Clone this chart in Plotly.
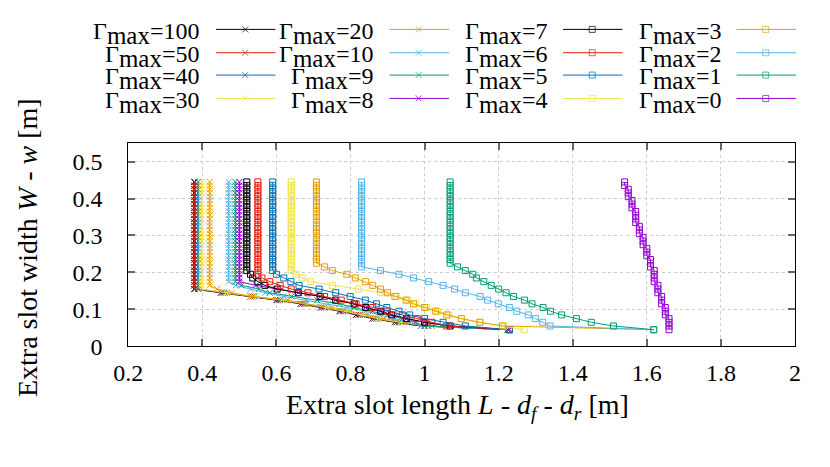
import plotly.graph_objects as go

# ------------------------------------------------------------
# Data
# ------------------------------------------------------------

# W - w levels shared by every curve (top of the wall down to the end)
LEVELS = [0.445, 0.435, 0.425, 0.415, 0.405, 0.395, 0.385, 0.375, 0.365, 0.355,
          0.345, 0.335, 0.325, 0.315, 0.305, 0.295, 0.285, 0.275, 0.265, 0.255,
          0.245, 0.235, 0.225, 0.215, 0.205, 0.195, 0.185, 0.175, 0.165, 0.155,
          0.145, 0.135, 0.125, 0.115, 0.105, 0.095, 0.085, 0.075, 0.065, 0.055,
          0.045]

GAMMA = [100, 50, 40, 30, 20, 10, 9, 8, 7, 6, 5, 4, 3, 2, 1, 0]

# vertical part: constant L - df - dr from the top level down to the knee
WALL_X = [0.378, 0.380, 0.389, 0.398, 0.420, 0.471, 0.489, 0.500,
          0.520, 0.550, 0.590, 0.640, 0.708, 0.830, 1.069, None]
KNEE_Y = [0.155, 0.155, 0.155, 0.155, 0.165, 0.175, 0.175, 0.175,
          0.205, 0.195, 0.205, 0.205, 0.225, 0.215, 0.225, None]

# sloped part: x at each level below the knee
SLOPE_100 = [0.45, 0.53, 0.60, 0.665, 0.72, 0.77, 0.815, 0.86, 0.92, 0.99, 1.225]
SLOPE_50 = [0.455, 0.535, 0.605, 0.67, 0.725, 0.775, 0.82, 0.865, 0.925, 1.0, 1.225]
SLOPE_40 = [0.46, 0.54, 0.61, 0.675, 0.73, 0.78, 0.825, 0.87, 0.93, 1.01, 1.225]
SLOPE_30 = [0.465, 0.545, 0.615, 0.68, 0.735, 0.785, 0.83, 0.875, 0.935, 1.02, 1.225]
SLOPE_20 = [0.44, 0.48, 0.53, 0.63, 0.68, 0.75, 0.80, 0.845, 0.89, 0.95, 1.02, 1.225]
SLOPE_10 = [0.49, 0.53, 0.57, 0.62, 0.68, 0.74, 0.79, 0.84, 0.88, 0.92, 0.96, 0.99, 1.225]
SLOPE_9 = [0.505, 0.552, 0.582, 0.641, 0.71, 0.77, 0.81, 0.86, 0.90, 0.94, 0.975, 1.0, 1.225]
SLOPE_8 = [0.545, 0.60, 0.659, 0.718, 0.76, 0.81, 0.841, 0.881, 0.911, 0.951, 1.0, 1.069, 1.229]
SLOPE_7 = [0.53, 0.536, 0.55, 0.569, 0.602, 0.659, 0.718, 0.76, 0.81, 0.841, 0.881,
           0.911, 0.951, 1.0, 1.069, 1.229]
SLOPE_6 = [0.561, 0.582, 0.61, 0.64, 0.685, 0.73, 0.775, 0.815, 0.86, 0.90, 0.94,
           0.98, 1.02, 1.06, 1.229]
SLOPE_5 = [0.60, 0.62, 0.639, 0.661, 0.715, 0.76, 0.799, 0.84, 0.87, 0.898, 0.931,
           0.96, 1.0, 1.05, 1.11, 1.229]
SLOPE_4 = [0.653, 0.670, 0.692, 0.751, 0.821, 0.881, 0.925, 0.955, 0.975, 1.005,
           1.035, 1.065, 1.10, 1.15, 1.215, 1.269]
SLOPE_3 = [0.730, 0.751, 0.79, 0.813, 0.841, 0.86, 0.881, 0.90, 0.92, 0.95, 0.97,
           1.0, 1.03, 1.06, 1.099, 1.149, 1.21, 1.618]
SLOPE_2 = [0.881, 0.931, 0.970, 1.011, 1.05, 1.081, 1.11, 1.15, 1.17, 1.199, 1.229,
           1.249, 1.28, 1.299, 1.319, 1.339, 1.618]
SLOPE_1 = [1.089, 1.11, 1.13, 1.14, 1.16, 1.18, 1.20, 1.22, 1.24, 1.27, 1.29, 1.32,
           1.34, 1.37, 1.41, 1.45, 1.51, 1.619]
SLOPE_0 = [1.54, 1.54, 1.55, 1.55, 1.55, 1.56, 1.56, 1.56, 1.57, 1.57, 1.57, 1.57,
           1.58, 1.58, 1.58, 1.59, 1.59, 1.59, 1.60, 1.60, 1.60, 1.61, 1.61, 1.61,
           1.62, 1.62, 1.62, 1.62, 1.63, 1.63, 1.63, 1.64, 1.64, 1.64, 1.65, 1.65,
           1.65, 1.66, 1.66, 1.66, 1.66]

SLOPES = [SLOPE_100, SLOPE_50, SLOPE_40, SLOPE_30, SLOPE_20, SLOPE_10, SLOPE_9, SLOPE_8,
          SLOPE_7, SLOPE_6, SLOPE_5, SLOPE_4, SLOPE_3, SLOPE_2, SLOPE_1, SLOPE_0]

# gnuplot default line colours
PALETTE = ["#000000", "#e51e10", "#0072b2", "#f0e442",
           "#e69f00", "#56b4e9", "#009e73", "#9400d3"]

FONT = "Liberation Serif, DejaVu Serif, serif"

W, H = 830, 467


def px(x):
    return x / W


def py(y):
    return (H - y) / H


# ------------------------------------------------------------
# Figure
# ------------------------------------------------------------
fig = go.Figure()

for i, g in enumerate(GAMMA):
    color = PALETTE[i % 8]
    symbol = "x-thin" if i < 8 else "square-open"
    if WALL_X[i] is None:
        xs = list(SLOPES[i])
    else:
        n_wall = sum(1 for lv in LEVELS if lv >= KNEE_Y[i] - 1e-9)
        xs = [WALL_X[i]] * n_wall + SLOPES[i]
    ys = LEVELS[:len(xs)]
    fig.add_trace(go.Scatter(
        x=xs, y=ys, mode="lines+markers", showlegend=False,
        line=dict(color=color, width=1),
        marker=dict(symbol=symbol, size=6, color=color,
                    line=dict(color=color, width=1)),
        xaxis="x", yaxis="y",
    ))

# custom gnuplot-like key: text right-aligned, sample after it
LEG_TEXT_X = [183, 361, 540, 718]
LEG_LINE_X0 = [198, 376, 554, 732]
LEG_ROW_Y = [22, 46, 69, 93]
annotations = []
for i, g in enumerate(GAMMA):
    col, row = i // 4, i % 4
    color = PALETTE[i % 8]
    symbol = "x-thin" if i < 8 else "square-open"
    x0 = LEG_LINE_X0[col]
    yy = LEG_ROW_Y[row]
    fig.add_trace(go.Scatter(
        x=[x0, x0 + 30, x0 + 61], y=[yy, yy, yy], mode="lines+markers",
        showlegend=False, hoverinfo="skip",
        line=dict(color=color, width=1),
        marker=dict(symbol=symbol, size=[0, 6, 0], color=color,
                    line=dict(color=color, width=1)),
        xaxis="x2", yaxis="y2",
    ))
    annotations.append(dict(
        text=f"Γ<sub><span style='font-size:25px'>max</span></sub>={g}",
        x=LEG_TEXT_X[col], y=yy + 4, xref="x2", yref="y2",
        xanchor="right", yanchor="middle", showarrow=False,
        font=dict(family=FONT, size=24, color="black"),
    ))

annotations.append(dict(
    text="Extra slot length <i>L</i> - <i>d<sub>f</sub></i> - <i>d<sub>r</sub></i> [m]",
    x=px(446), y=py(410), xref="paper", yref="paper",
    xanchor="center", yanchor="middle", showarrow=False,
    font=dict(family=FONT, size=28, color="black"),
))
annotations.append(dict(
    text="Extra slot width <i>W</i> - <i>w</i> [m]",
    x=px(4), y=py(246), xref="paper", yref="paper",
    xanchor="center", yanchor="middle", showarrow=False, textangle=-90,
    font=dict(family=FONT, size=28, color="black"),
))

axis_common = dict(
    showline=True, linecolor="black", linewidth=1, mirror="ticks",
    ticks="inside", ticklen=7, tickwidth=1.5, tickcolor="#666666",
    showgrid=True, gridcolor="#cccccc", gridwidth=1, griddash="dot",
    zeroline=False,
    tickfont=dict(family=FONT, size=24, color="black"),
)

fig.update_layout(
    width=W, height=H,
    margin=dict(l=0, r=0, t=0, b=0),
    paper_bgcolor="white", plot_bgcolor="rgba(0,0,0,0)",
    xaxis=dict(domain=[px(108), px(792)], range=[0.2, 2], dtick=0.2,
               tick0=0.2, ticklabelstandoff=5, anchor="y", **axis_common),
    yaxis=dict(domain=[py(348), py(139)], range=[0, 0.55],
               tickvals=[0, 0.1, 0.2, 0.3, 0.4, 0.5], ticklabelstandoff=20,
               anchor="x", **axis_common),
    xaxis2=dict(domain=[0, 1], range=[0, W], visible=False, anchor="y2"),
    yaxis2=dict(domain=[(H - 110) / H, 1], range=[110, 0], visible=False,
                anchor="x2"),
    annotations=annotations,
    hovermode=False,
)

fig.write_html("out.html")
